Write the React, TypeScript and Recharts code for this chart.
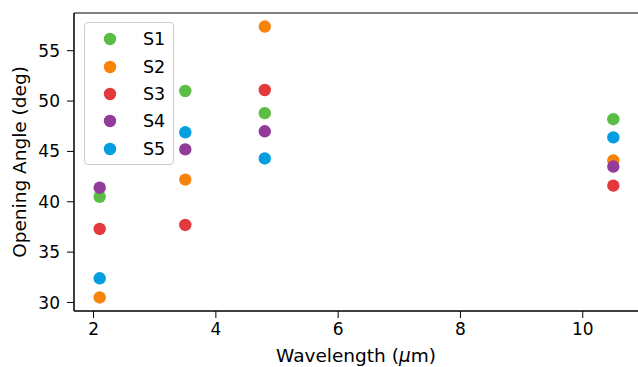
import React from "react";
import {
  ScatterChart,
  Scatter,
  XAxis,
  YAxis,
  ReferenceArea,
} from "recharts";

const wavelengths = [2.1, 3.5, 4.8, 10.5];
const s1 = [40.5, 51.0, 48.8, 48.2];
const s2 = [30.5, 42.2, 57.4, 44.1];
const s3 = [37.3, 37.7, 51.1, 41.6];
const s4 = [41.4, 45.2, 47.0, 43.5];
const s5 = [32.4, 46.9, 44.3, 46.4];

const xTicks = [2, 4, 6, 8, 10];
const yTicks = [30, 35, 40, 45, 50, 55];

const X_DOMAIN: [number, number] = [1.68, 10.92];
const Y_DOMAIN: [number, number] = [29.155, 58.745];

const FONT = "'DejaVu Sans', sans-serif";
const FS = 17;
const LABEL_FS = 18.5;

const SERIES = [
  { name: "S1", values: s1, color: "#5cbd45" },
  { name: "S2", values: s2, color: "#f8830a" },
  { name: "S3", values: s3, color: "#e23a3c" },
  { name: "S4", values: s4, color: "#923b9a" },
  { name: "S5", values: s5, color: "#029ee1" },
];

const toPoints = (values: number[]) =>
  wavelengths.map((x, i) => ({ x, y: values[i] }));

const dot = (color: string) => (props: any) =>
  <circle cx={props.cx} cy={props.cy} r={6.2} fill={color} />;

function ChartLegend() {
  return (
    <div
      style={{
        position: "absolute",
        left: 84,
        top: 22,
        width: 90,
        height: 143,
        border: "1px solid #cccccc",
        borderRadius: 4,
        background: "rgba(255,255,255,0.8)",
        fontFamily: FONT,
        fontSize: FS + 0.5,
        boxSizing: "border-box",
      }}
    >
      {SERIES.map((s, i) => (
        <div
          key={s.name}
          style={{ position: "absolute", left: 0, top: 16.3 + i * 27.35, width: "100%" }}
        >
          <svg
            width={14}
            height={14}
            style={{ position: "absolute", left: 18, top: -7 }}
          >
            <circle cx={7} cy={7} r={6.2} fill={s.color} />
          </svg>
          <span
            style={{
              position: "absolute",
              left: 58,
              top: -11,
              lineHeight: "22px",
              color: "#000",
            }}
          >
            {s.name}
          </span>
        </div>
      ))}
    </div>
  );
}

export default function App() {
  return (
    <div
      style={{
        position: "absolute",
        left: 0,
        top: 0,
        width: 638,
        height: 367,
        overflow: "hidden",
        background: "#fff",
      }}
    >
      <ScatterChart
        width={640}
        height={367}
        margin={{ top: 13, right: 1, left: 0, bottom: 0 }}
        style={{ fontFamily: FONT }}
      >
        <XAxis
          type="number"
          dataKey="x"
          domain={X_DOMAIN}
          ticks={xTicks}
          allowDataOverflow
          height={56}
          tickSize={7}
          tickMargin={5}
          axisLine={{ stroke: "#000" }}
          tickLine={{ stroke: "#000" }}
          tick={{ fill: "#000", fontSize: FS }}
          label={{
            content: () => (
              <text
                x={356}
                y={362}
                textAnchor="middle"
                fontSize={LABEL_FS}
                fill="#000"
                fontFamily={FONT}
              >
                Wavelength (<tspan fontStyle="italic">μ</tspan>m)
              </text>
            ),
          }}
        />
        <YAxis
          type="number"
          dataKey="y"
          domain={Y_DOMAIN}
          ticks={yTicks}
          allowDataOverflow
          width={74}
          tickSize={7}
          tickMargin={7}
          axisLine={{ stroke: "#000" }}
          tickLine={{ stroke: "#000" }}
          tick={{ fill: "#000", fontSize: FS }}
          label={{
            content: () => (
              <text
                x={26}
                y={162}
                transform="rotate(-90 26 162)"
                textAnchor="middle"
                fontSize={LABEL_FS}
                fill="#000"
                fontFamily={FONT}
              >
                Opening Angle (deg)
              </text>
            ),
          }}
        />
        <ReferenceArea
          x1={X_DOMAIN[0]}
          x2={X_DOMAIN[1]}
          y1={Y_DOMAIN[0]}
          y2={Y_DOMAIN[1]}
          fill="none"
          stroke="#000"
          strokeWidth={1}
          fillOpacity={0}
        />
        {SERIES.map((s) => (
          <Scatter
            key={s.name}
            name={s.name}
            data={toPoints(s.values)}
            fill={s.color}
            shape={dot(s.color)}
            isAnimationActive={false}
          />
        ))}
      </ScatterChart>
      <ChartLegend />
    </div>
  );
}
